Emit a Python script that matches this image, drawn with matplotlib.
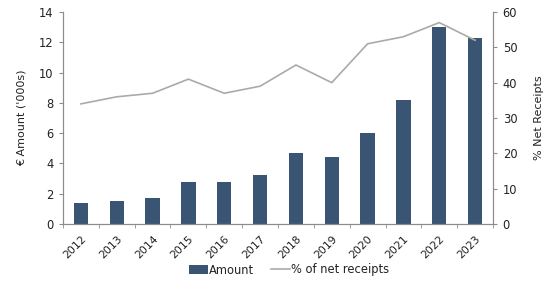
import matplotlib
matplotlib.use("Agg")
import matplotlib.pyplot as plt
import numpy as np

years = ["2012", "2013", "2014", "2015", "2016", "2017", "2018", "2019", "2020", "2021", "2022", "2023"]
amount = [1.4, 1.55, 1.75, 2.8, 2.75, 3.25, 4.7, 4.4, 6.0, 8.2, 13.0, 12.3]
pct_net = [34, 36, 37, 41, 37, 39, 45, 40, 51, 53, 57, 52]

plt.rcParams['font.family'] = ['DejaVu Sans']
fig = plt.figure(figsize=(5.57, 2.86), dpi=100)
ax = fig.add_axes([63/557, 1-224/286, 430/557, 212/286])
x = np.arange(len(years))
bar_color = "#3a5574"
line_color = "#ababa5"
spine_color = "#8c8c8c"
text_color = "#222222"

b = ax.bar(x, amount, width=0.4, color=bar_color, label="Amount", zorder=2)
ax.set_xlim(-0.5, len(years) - 0.5)
ax.set_ylim(0, 14)
ax.set_yticks(range(0, 15, 2))
ax.set_xticks(x)
ax.set_xticklabels(years, rotation=45, ha="right", rotation_mode="anchor", fontsize=7.8, color=text_color)
ax.set_xticks(np.arange(-0.5, len(years)), minor=True)
ax.tick_params(axis="x", which="major", length=0, pad=7)
ax.tick_params(axis="x", which="minor", length=3, color=spine_color, direction="out")
ax.tick_params(axis="y", labelsize=8.3, length=3, color=spine_color, pad=4, labelcolor=text_color)
ax.set_ylabel("€ Amount ('000s)", fontsize=8, labelpad=9, color=text_color)
ax.spines["top"].set_visible(False)
for s in ["left", "bottom", "right"]:
    ax.spines[s].set_color(spine_color)

ax2 = ax.twinx()
l, = ax2.plot(x, pct_net, color=line_color, lw=1.2, label="% of net receipts", zorder=3)
ax2.set_ylim(0, 60)
ax2.set_yticks(range(0, 61, 10))
ax2.tick_params(axis="y", labelsize=8.3, length=3, color=spine_color, pad=4, labelcolor=text_color)
ax2.set_ylabel("% Net Receipts", fontsize=8, labelpad=12, color=text_color)
ax2.spines["top"].set_visible(False)
for s in ["left", "bottom", "right"]:
    ax2.spines[s].set_color(spine_color)

fig.legend([b, l], ["Amount", "% of net receipts"], loc="center", bbox_to_anchor=(289/557, 1-270/286),
           ncol=2, frameon=False, fontsize=8.3, handlelength=1.6, handletextpad=0.1, columnspacing=1.5,
           labelcolor=text_color)

fig.savefig("out.png", dpi=100)
